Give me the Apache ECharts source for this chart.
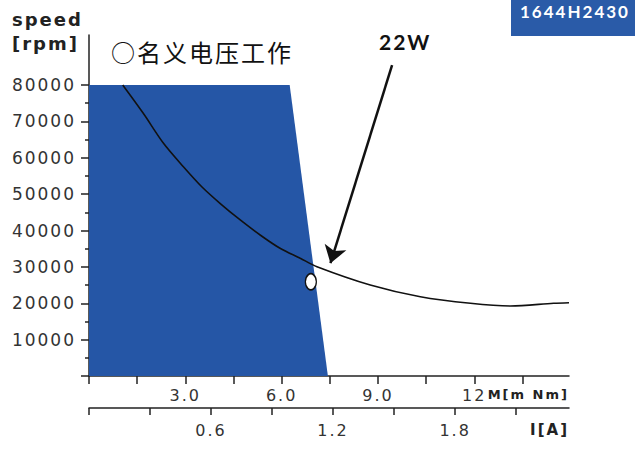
<!DOCTYPE html>
<html>
<head>
<meta charset="utf-8">
<script src="https://cdn.jsdelivr.net/npm/echarts@6/dist/echarts.min.js"></script>
<style>
html,body{margin:0;padding:0;background:#fff;}
#chart{width:635px;height:456px;}
#chart svg text{letter-spacing:2px;}
</style>
</head>
<body>
<div id="chart"></div>
<script>
// ---- data ----
const speedMajorTicks = [0, 10000, 20000, 30000, 40000, 50000, 60000, 70000, 80000];
const speedMinorTicks = [5000, 15000, 25000, 35000, 45000, 55000, 65000, 75000];
const torqueTicks = [0, 1.5, 3, 4.5, 6, 7.5, 9, 10.5, 12, 13.5];
const torqueLabels = [3, 6, 9, 12];
const currentTicks = [0, 0.3, 0.6, 0.9, 1.2, 1.5, 1.8, 2.1];
const currentLabels = [0.6, 1.2, 1.8];

// operating range (blue area): torque [mNm], speed [rpm]
const rangeTorque = [0, 6.25, 7.44];
const rangeSpeed = [80000, 80000, 0];

// 22W characteristic curve
const curveTorque = [1.05, 1.69, 2.32, 2.94, 3.52, 4.08, 4.71, 5.33, 5.95, 6.58, 7.10, 8.76, 10.32, 11.88, 13.13, 14.47, 14.95];
const curveSpeed = [80000, 72220, 63980, 57540, 51960, 47480, 42890, 38770, 35110, 32360, 30050, 25020, 21800, 19990, 19250, 19990, 20150];

// nominal operating point
const nominalTorque = [6.91];
const nominalSpeed = [25900];

// 22W annotation arrow (from, to)
const arrowTorque = [9.44, 7.52];
const arrowSpeed = [85500, 31000];

const chart = echarts.init(document.getElementById('chart'), null, {renderer: 'svg'});

const axisFont = {fontFamily: 'DejaVu Sans', fontSize: 16, color: '#333'};

const option = {
  animation: false,
  grid: {left: 89, right: 66, top: 35, bottom: 80, containLabel: false},
  xAxis: [
    {
      type: 'value', min: 0, max: 14.95, position: 'bottom',
      axisLine: {show: true, onZero: false, lineStyle: {color: '#222', width: 1.5}},
      axisTick: {show: true, customValues: torqueTicks, length: 8, lineStyle: {color: '#222', width: 1.5}},
      axisLabel: {customValues: torqueLabels, margin: 11,
        formatter: v => (v === 12 ? '12' : v.toFixed(1)), ...axisFont},
      splitLine: {show: false},
      name: 'M[m Nm]', nameLocation: 'end', nameGap: 0,
      nameTextStyle: {align: 'right', verticalAlign: 'top', padding: [12, 0, 0, 0],
        fontFamily: 'DejaVu Sans', fontWeight: 'bold', fontSize: 13, color: '#222'}
    },
    {
      type: 'value', min: 0, max: 2.36, position: 'bottom', offset: 32,
      axisLine: {show: true, onZero: false, lineStyle: {color: '#222', width: 1.5}},
      axisTick: {show: true, customValues: currentTicks, length: 7, lineStyle: {color: '#222', width: 1.5}},
      axisLabel: {customValues: currentLabels, margin: 14,
        formatter: v => v.toFixed(1), ...axisFont},
      splitLine: {show: false},
      name: 'I[A]', nameLocation: 'end', nameGap: 0,
      nameTextStyle: {align: 'right', verticalAlign: 'top', padding: [14, 0, 0, 0],
        fontFamily: 'DejaVu Sans', fontWeight: 'bold', fontSize: 15, color: '#222'}
    }
  ],
  yAxis: [
    {
      type: 'value', min: 0, max: 93750, position: 'left',
      axisLine: {show: true, onZero: false, lineStyle: {color: '#222', width: 1.5}},
      axisTick: {show: true, customValues: speedMajorTicks, length: 8, lineStyle: {color: '#222', width: 1.5}},
      axisLabel: {customValues: speedMajorTicks, margin: 13, formatter: v => (v === 0 ? '' : String(v)),
        fontFamily: 'DejaVu Sans', fontSize: 17, color: '#333'},
      splitLine: {show: false}
    },
    {
      type: 'value', min: 0, max: 93750, position: 'left',
      axisLine: {show: false},
      axisTick: {show: true, customValues: speedMinorTicks, length: 4, lineStyle: {color: '#222', width: 1.5}},
      axisLabel: {show: false},
      splitLine: {show: false}
    }
  ],
  series: [
    {
      type: 'line', name: 'range', z: 1,
      data: rangeTorque.map((m, i) => [m, rangeSpeed[i]]),
      symbol: 'none', lineStyle: {width: 0, opacity: 0},
      areaStyle: {color: '#2556a6', opacity: 1}
    },
    {
      type: 'line', name: '22W', z: 3,
      data: curveTorque.map((m, i) => [m, curveSpeed[i]]),
      smooth: 0.3, symbol: 'none',
      lineStyle: {color: '#111', width: 1.6},
      markLine: {
        silent: true, animation: false,
        symbol: ['none', 'arrow'], symbolSize: 17,
        lineStyle: {color: '#111', width: 2.5, type: 'solid'},
        label: {show: false},
        data: [[
          {coord: [arrowTorque[0], arrowSpeed[0]]},
          {coord: [arrowTorque[1], arrowSpeed[1]]}
        ]]
      }
    },
    {
      type: 'scatter', name: 'nominal', z: 5,
      data: nominalTorque.map((m, i) => [m, nominalSpeed[i]]),
      symbol: 'circle', symbolSize: [11, 16],
      itemStyle: {color: '#fff', borderColor: '#111', borderWidth: 1.5, opacity: 1}
    }
  ],
  graphic: [
    {type: 'text', left: 12, top: 7,
      style: {text: 'speed\n[rpm]', font: 'bold 18px "DejaVu Sans"', fill: '#222', lineHeight: 24}},
    {type: 'text', left: 111, top: 39,
      style: {text: '○名义电压工作', font: '24px "Noto Sans CJK SC"', fill: '#111'}},
    {type: 'text', left: 379, top: 31,
      style: {text: '22W', font: 'bold 21px Lato', fill: '#111'}},
    {type: 'rect', shape: {x: 511, y: 0, width: 124, height: 36}, style: {fill: '#2a5ba8'}},
    {type: 'text', left: 520, top: 3,
      style: {text: '1644H2430', font: 'bold 17px Lato', fill: '#fff'}}
  ]
};
chart.setOption(option);
</script>
</body>
</html>
